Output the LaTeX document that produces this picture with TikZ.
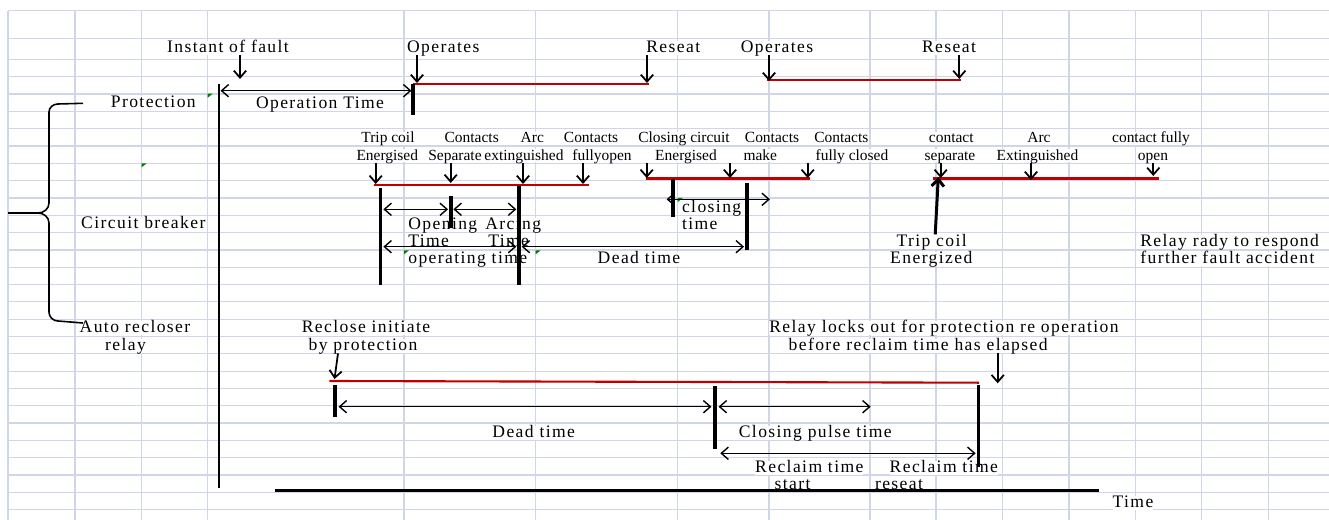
\documentclass[tikz,border=0pt]{standalone}
\usepackage{fontspec}
\setmainfont{Liberation Serif}
\newfontfamily\lblfont{Liberation Serif}[LetterSpace=8]
\usetikzlibrary{positioning}
\usetikzlibrary{arrows.meta}
\definecolor{gridc}{RGB}{208,214,230}
\definecolor{barred}{RGB}{192,0,0}
\definecolor{markgreen}{RGB}{0,128,0}
\tikzset{
	lbl/.style={
		fill=white,
		inner sep=0pt,
		text height=6.6pt,
		text depth=1.4pt,
		font=\lblfont\fontsize{10}{12}\selectfont
	},
	slbl/.style={
		lbl,
		text height=6pt,
		text depth=1.4pt,
		font=\fontsize{8.8}{10}\selectfont
	},
	redbar/.style={barred, line width=1.7pt},
	bar/.style={line width=1.6pt},
	fatbar/.style={line width=2.2pt},
	tim/.style={line width=0.8pt},
	cmark/.style={fill=markgreen}
}

\begin{document}
\begin{tikzpicture}[x=0.02cm, y=-0.02cm, >={Straight Barb[length=4pt,width=7pt]}]
	\fill[white] (0,0) rectangle (1329,520);
	\useasboundingbox (0,0) rectangle (1329,520);
	% sheet grid
	\foreach \x in {8,75,141.7,207.7,404,535.7,677.7,769,870,936,1002.7,1069,1135.7,1201.7,1268.3}
		\draw[gridc, line width=0.7pt] (\x,10.7) -- (\x,520);
	\foreach \y in {10.7,38.3,59.3}
		\draw[gridc, line width=0.7pt] (8,\y) -- (1329,\y);
	\foreach \k in {0,...,25}
		\draw[gridc, line width=0.7pt] (8,76.7+17.32*\k) -- (1329,76.7+17.32*\k);
	\foreach \gx/\gy in {207.7/93.7, 141.7/163.3, 404/250.3, 535.7/250.3, 677.7/198}
		\fill[cmark] (\gx,\gy) -- ++(5,0) -- ++(-5,4) -- cycle;

	% row labels and brace
	\node[lbl] (prot) at (153.3,103.3) {Protection};
	\node[lbl] (cb) at (143.3,224) {Circuit breaker};
	\node[lbl] (auto1) at (135,328.3) {Auto recloser};
	\node[lbl] (auto2) at (125.5,346) {relay};
	\coordinate (brTop) at (83,103.3);
	\coordinate (brTip) at (8,213);
	\coordinate (brBot) at (83,323);
	\draw[line width=0.9pt] (brTop) -- (58,104) to[out=180,in=90] (49,112) -- (49,203) to[out=-90,in=0] (38,213) -- (brTip);
	\draw[line width=0.9pt] (brTip) -- (38,213) to[out=0,in=90] (49,223) -- (49,312) to[out=-90,in=180] (58,321) -- (brBot);

	% protection
	\node[lbl] (fault) at (228,48) {Instant of fault};
	\node[lbl] (op1) at (443.3,48) {Operates};
	\node[lbl] (rs1) at (673.3,48) {Reseat};
	\node[lbl] (op2) at (777,48) {Operates};
	\node[lbl] (rs2) at (949,48) {Reseat};
	\node[lbl] (optime) at (320,104) {Operation Time};

	\coordinate (faultTop) at (219,84);
	\coordinate (faultBot) at (219,488);
	\coordinate (opBarTop) at (413,84);
	\coordinate (opBarBot) at (413,115);
	\coordinate (pr1End) at (649,84);
	\coordinate (pr2Start) at (767,80);
	\coordinate (pr2End) at (961,80);
	\coordinate (faultArr) at (240,79);
	\coordinate (op1Arr) at (417,83);
	\coordinate (rs1Arr) at (647,83);
	\coordinate (op2Arr) at (769,81);
	\coordinate (rs2Arr) at (959.3,79);
	\coordinate (otL) at (220.5,90.7);
	\coordinate (otR) at (411.5,90.7);

	\draw[bar] (faultTop) -- (faultBot);
	\draw[redbar] (opBarTop) -- (pr1End);
	\draw[redbar] (pr2Start) -- (pr2End);
	\draw[fatbar] (opBarTop) -- (opBarBot);
	\draw[line width=1pt, ->] (fault.south -| faultArr) -- (faultArr);
	\draw[line width=1pt, ->] (op1.south -| op1Arr) -- (op1Arr);
	\draw[line width=1pt, ->] (rs1.south -| rs1Arr) -- (rs1Arr);
	\draw[line width=1pt, ->] (op2.south -| op2Arr) -- (op2Arr);
	\draw[line width=1pt, ->] (rs2.south -| rs2Arr) -- (rs2Arr);
	\draw[tim, <->] (otL) -- (otR);

	% circuit breaker, opening
	\node[slbl] (trip1) at (388,138.3) {Trip coil};
	\node[slbl] (cont1) at (471.7,138.3) {Contacts};
	\node[slbl] (arc1) at (532.3,138.3) {Arc};
	\node[slbl] (cont2) at (591,138.3) {Contacts};
	\node[slbl] (ener1) at (387.3,156) {Energised};
	\node[slbl] (sep1) at (455,156) {Separate};
	\node[slbl] (ext1) at (524,156) {extinguished};
	\node[slbl] (fopen) at (602,156) {fullyopen};
	\node[lbl, anchor=west] (opn) at (408,225) {Opening};
	\node[lbl, anchor=west] (opnT) at (408,241.7) {Time};
	\node[lbl, anchor=west] (arcg) at (485,225) {Arcing};
	\node[lbl, anchor=west] (arcgT) at (488,241.7) {Time};
	\node[lbl, anchor=west] (optg) at (408,259.3) {operating time};
	\node[lbl] (dead1) at (639,259.3) {Dead time};

	\coordinate (cb1Start) at (374,185);
	\coordinate (cb1End) at (588.7,185);
	\coordinate (a1) at (375.7,184);
	\coordinate (a2) at (450.7,183);
	\coordinate (a3) at (523,184);
	\coordinate (a4) at (583,184);
	\coordinate (trBarTop) at (380.7,188);
	\coordinate (trBarBot) at (380.7,285);
	\coordinate (sepBarTop) at (450.7,196);
	\coordinate (sepBarBot) at (450.7,228.3);
	\coordinate (arcBarTop) at (519,186);
	\coordinate (arcBarBot) at (519,285);
	\coordinate (clBarTop) at (746.7,183.3);
	\coordinate (clBarBot) at (746.7,250);

	\draw[redbar] (cb1Start) -- (cb1End);
	\draw[line width=1pt, ->] (ener1.south -| a1) -- (a1);
	\draw[line width=1pt, ->] (sep1.south -| a2) -- (a2);
	\draw[line width=1pt, ->] (ext1.south -| a3) -- (a3);
	\draw[line width=1pt, ->] (fopen.south -| a4) -- (a4);
	\draw[bar] (trBarTop) -- (trBarBot);
	\draw[fatbar] (sepBarTop) -- (sepBarBot);
	\draw[fatbar] (arcBarTop) -- (arcBarBot);
	\draw[tim, <->] ([xshift=1.5]trBarTop |- 0,209.3) -- ([xshift=-1.5]sepBarTop |- 0,209.3);
	\draw[tim, <->] ([xshift=1.5]sepBarTop |- 0,209.3) -- ([xshift=-1.5]arcBarTop |- 0,209.3);
	\draw[tim, <->] ([xshift=1.5]trBarTop |- 0,246.7) -- ([xshift=-1.5]arcBarTop |- 0,246.7);
	\draw[tim, <->] ([xshift=1.5]arcBarTop |- 0,246.7) -- ([xshift=-1.5]clBarTop |- 0,246.7);

	% circuit breaker, closing
	\node[slbl] (clos) at (684,138.3) {Closing circuit};
	\node[slbl] (cont3) at (772,138.3) {Contacts};
	\node[slbl] (cont4) at (841.3,138.3) {Contacts};
	\node[slbl] (ener2) at (686,156) {Energised};
	\node[slbl] (make) at (760.3,156) {make};
	\node[slbl] (fclosed) at (852,156) {fully closed};
	\node[lbl, anchor=west] (clsg) at (681.7,208.3) {closing};
	\node[lbl, anchor=west] (clsgT) at (681.7,225) {time};

	\coordinate (cb2Start) at (646,178.7);
	\coordinate (cb2End) at (810,178.7);
	\coordinate (b1) at (646.7,178);
	\coordinate (b2) at (730,178);
	\coordinate (b3) at (807.7,178);
	\coordinate (enBarTop) at (672.7,178.7);
	\coordinate (enBarBot) at (672.7,216.7);
	\coordinate (clsEnd) at (770,199.3);

	\draw[redbar] (cb2Start) -- (cb2End);
	\draw[line width=1pt, ->] (ener2.south -| b1) -- (b1);
	\draw[line width=1pt, ->] (make.south -| b2) -- (b2);
	\draw[line width=1pt, ->] (fclosed.south -| b3) -- (b3);
	\draw[fatbar] (enBarTop) -- (enBarBot);
	\draw[fatbar] (clBarTop) -- (clBarBot);
	\draw[tim, <->] ([xshift=-3.5]enBarTop |- clsEnd) -- (clsEnd);

	% circuit breaker, reopening
	\node[slbl] (ctc) at (951.3,138.3) {contact};
	\node[slbl] (arc2) at (1039,138.3) {Arc};
	\node[slbl] (ctcf) at (1151,138.3) {contact fully};
	\node[slbl] (sep2) at (950,156) {separate};
	\node[slbl] (ext2) at (1037.5,156) {Extinguished};
	\node[slbl] (open) at (1153,156) {open};
	\node[lbl] (trip2) at (931.7,241.7) {Trip coil};
	\node[lbl] (trip2b) at (931.3,259.3) {Energized};
	\node[lbl, anchor=west] (rdy) at (1140,241.7) {Relay rady to respond};
	\node[lbl, anchor=west] (rdyb) at (1140,259.3) {further fault accident};

	\coordinate (cb3Start) at (933.3,178.3);
	\coordinate (cb3End) at (1158.7,178.3);
	\coordinate (c1) at (940.7,178);
	\coordinate (c2) at (1031,180);
	\coordinate (c3) at (1153.3,176);
	\coordinate (tcTip) at (938.3,177);

	\draw[redbar] (cb3Start) -- (cb3End);
	\draw[line width=1pt, ->] (sep2.south -| c1) -- (c1);
	\draw[line width=1pt, ->] (ext2.south -| c2) -- (c2);
	\draw[line width=1pt, ->] (open.south -| c3) -- (c3);
	\draw[line width=1.7pt, ->] ([xshift=2]trip2.north) -- (tcTip);

	% auto recloser relay
	\node[lbl] (recl) at (366,328.3) {Reclose initiate};
	\node[lbl] (reclb) at (363,346) {by protection};
	\node[lbl, anchor=west] (lock) at (769,328.3) {Relay locks out for protection re operation};
	\node[lbl, anchor=west] (lockb) at (788.3,346) {before reclaim time has elapsed};
	\node[lbl] (dead2) at (533.7,432.7) {Dead time};
	\node[lbl] (pulse) at (815.3,432.7) {Closing pulse time};
	\node[lbl] (rcl1) at (809.3,467.7) {Reclaim time};
	\node[lbl] (rcl1b) at (792.5,485) {start};
	\node[lbl] (rcl2) at (943.8,467.7) {Reclaim time};
	\node[lbl] (rcl2b) at (899,485) {reseat};
	\node[lbl] (time) at (1133,502.7) {Time};

	\coordinate (recArr) at (334.5,379);
	\coordinate (arStart) at (329.3,381);
	\coordinate (arEnd) at (979,382.7);
	\coordinate (riBarTop) at (335,385);
	\coordinate (riBarBot) at (335,416.7);
	\coordinate (cpBarTop) at (715,386);
	\coordinate (cpBarBot) at (715,449.3);
	\coordinate (rtBarTop) at (978.3,385);
	\coordinate (rtBarBot) at (978.3,466.7);
	\coordinate (pulseEnd) at (870.7,406.7);
	\coordinate (lockArr) at (997.7,383.3);
	\coordinate (axStart) at (275,490.7);
	\coordinate (axEnd) at (1099,490.7);

	\draw[barred, line width=1.2pt] (arStart) -- (arEnd);
	\draw[line width=1pt, ->] ([xshift=2]reclb.south -| recArr) -- (recArr);
	\draw[line width=1pt, ->] (lockb.south -| lockArr) -- (lockArr);
	\draw[fatbar] (riBarTop) -- (riBarBot);
	\draw[fatbar] (cpBarTop) -- (cpBarBot);
	\draw[bar] (rtBarTop) -- (rtBarBot);
	\draw[tim, <->] ([xshift=2]riBarTop |- pulseEnd) -- ([xshift=-2]cpBarTop |- pulseEnd);
	\draw[tim, <->] ([xshift=2]cpBarTop |- pulseEnd) -- (pulseEnd);
	\draw[tim, <->] ([xshift=3]cpBarTop |- 0,453.3) -- ([xshift=-1.5]rtBarTop |- 0,453.3);
	\draw[line width=1.9pt] (axStart) -- (axEnd);
\end{tikzpicture}
\end{document}
